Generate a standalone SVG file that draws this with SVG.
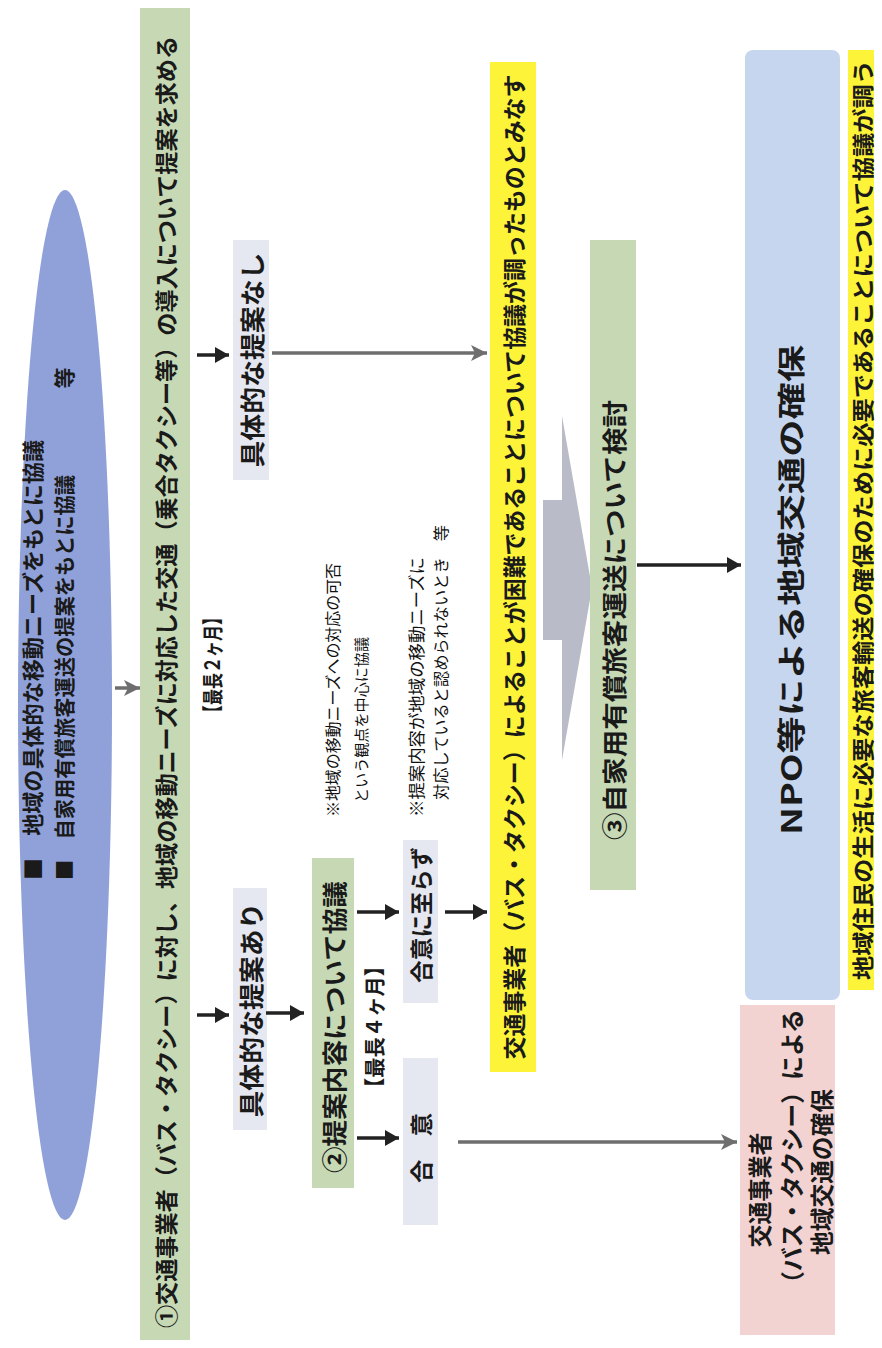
<svg xmlns="http://www.w3.org/2000/svg" width="882" height="1348" viewBox="0 0 882 1348">
<style>
.t{font-family:"Noto Sans CJK JP","Noto Sans CJK SC",sans-serif;font-weight:700;fill:#1a1a1a;}
.n{font-family:"Noto Sans CJK JP","Noto Sans CJK SC",sans-serif;font-weight:400;fill:#111;}
.green{fill:#c6d9b4;}
.pale{fill:#e5e7f1;}
.yel{fill:#fdf43a;}
.blk{stroke:#222;stroke-width:3.5;fill:none;}
.gry{stroke:#6e6e6e;stroke-width:3.5;fill:none;}
</style>
<defs>
<marker id="ah" markerUnits="userSpaceOnUse" markerWidth="14" markerHeight="16" refX="14" refY="8" orient="auto"><path d="M0,0 L14,8 L0,16 Z" fill="#222"/></marker>
<marker id="ahg" markerUnits="userSpaceOnUse" markerWidth="16" markerHeight="16" refX="16" refY="8" orient="auto"><path d="M0,0 L16,8 L0,16 L4,8 Z" fill="#6e6e6e"/></marker>
</defs>
<rect width="882" height="1348" fill="#ffffff"/>

<g id="start">
<ellipse cx="65" cy="705" rx="47" ry="515" fill="#8fa1d8"/>
<text class="t" font-size="22" text-anchor="start" dominant-baseline="central" transform="translate(31,880) rotate(-90)" textLength="440" lengthAdjust="spacingAndGlyphs">■　地域の具体的な移動ニーズをもとに協議</text>
<text class="t" font-size="21" text-anchor="start" dominant-baseline="central" transform="translate(63,880) rotate(-90)" textLength="405" lengthAdjust="spacingAndGlyphs">■　自家用有償旅客運送の提案をもとに協議</text>
<text class="t" font-size="21" text-anchor="middle" dominant-baseline="central" transform="translate(63,378) rotate(-90)">等</text>
</g>

<g id="step1">
<rect class="green" x="140" y="8" width="50" height="1332"/>
<text class="t" font-size="23" text-anchor="middle" dominant-baseline="central" transform="translate(165,682) rotate(-90)" textLength="1292" lengthAdjust="spacingAndGlyphs">①交通事業者（バス・タクシー）に対し、地域の移動ニーズに対応した交通（乗合タクシー等）の導入について提案を求める</text>
</g>
<g id="limit1">
<text class="t" font-size="21" text-anchor="middle" dominant-baseline="central" transform="translate(211,665) rotate(-90)" textLength="112" lengthAdjust="spacingAndGlyphs">【最長２ヶ月】</text>
</g>

<g id="noProposal">
<rect class="pale" x="233" y="240" width="36" height="240"/>
<text class="t" font-size="25" text-anchor="middle" dominant-baseline="central" transform="translate(251,360) rotate(-90)" textLength="215" lengthAdjust="spacingAndGlyphs">具体的な提案なし</text>
</g>

<g id="proposal">
<rect class="pale" x="233" y="888" width="34" height="242"/>
<text class="t" font-size="25" text-anchor="middle" dominant-baseline="central" transform="translate(250,1010) rotate(-90)" textLength="215" lengthAdjust="spacingAndGlyphs">具体的な提案あり</text>
</g>

<g id="step2">
<rect class="green" x="312" y="858" width="42" height="330"/>
<text class="t" font-size="25" text-anchor="middle" dominant-baseline="central" transform="translate(333,1027) rotate(-90)" textLength="292" lengthAdjust="spacingAndGlyphs">②提案内容について協議</text>
</g>
<g id="limit2">
<text class="t" font-size="21" text-anchor="middle" dominant-baseline="central" transform="translate(373,1027) rotate(-90)" textLength="142" lengthAdjust="spacingAndGlyphs">【最長４ヶ月】</text>
</g>

<g id="note1">
<text class="n" font-size="16" text-anchor="start" dominant-baseline="central" transform="translate(332,817) rotate(-90)" textLength="254" lengthAdjust="spacingAndGlyphs">※地域の移動ニーズへの対応の可否</text>
<text class="n" font-size="15" text-anchor="start" dominant-baseline="central" transform="translate(360,803) rotate(-90)" textLength="166" lengthAdjust="spacingAndGlyphs">という観点を中心に協議</text>
</g>
<g id="note2">
<text class="n" font-size="17" text-anchor="start" dominant-baseline="central" transform="translate(415,817) rotate(-90)" textLength="260" lengthAdjust="spacingAndGlyphs">※提案内容が地域の移動ニーズに</text>
<text class="n" font-size="16" text-anchor="start" dominant-baseline="central" transform="translate(440,800) rotate(-90)" textLength="275" lengthAdjust="spacingAndGlyphs">対応していると認められないとき　等</text>
</g>

<g id="noAgreement">
<rect class="pale" x="403" y="840" width="35" height="163"/>
<text class="t" font-size="23" text-anchor="middle" dominant-baseline="central" transform="translate(420,915) rotate(-90)" textLength="136" lengthAdjust="spacingAndGlyphs">合意に至らず</text>
</g>

<g id="agreement">
<rect class="pale" x="403" y="1058" width="35" height="167"/>
<text class="t" font-size="23" text-anchor="middle" dominant-baseline="central" transform="translate(420,1148) rotate(-90)" textLength="70" lengthAdjust="spacingAndGlyphs">合　意</text>
</g>

<g id="deemed">
<rect class="yel" x="490" y="62" width="46" height="1010"/>
<text class="t" font-size="23" text-anchor="middle" dominant-baseline="central" transform="translate(513,567) rotate(-90)" textLength="985" lengthAdjust="spacingAndGlyphs">交通事業者（バス・タクシー）によることが困難であることについて協議が調ったものとみなす</text>
</g>

<g id="blockArrow">
<polygon points="543,500 562,500 562,416 592,588 562,760 562,640 543,640" fill="#b9bbc9"/>
</g>

<g id="step3">
<rect class="green" x="590" y="240" width="46" height="650"/>
<text class="t" font-size="25" text-anchor="middle" dominant-baseline="central" transform="translate(613,620) rotate(-90)" textLength="440" lengthAdjust="spacingAndGlyphs">③自家用有償旅客運送について検討</text>
</g>

<g id="npo">
<rect x="745" y="50" width="95" height="950" rx="8" fill="#c6d6ef"/>
<text class="t" font-size="28" text-anchor="middle" dominant-baseline="central" transform="translate(790,590) rotate(-90)" textLength="490" lengthAdjust="spacingAndGlyphs">NPO等による地域交通の確保</text>
</g>

<g id="condition">
<rect class="yel" x="848" y="50" width="26" height="940"/>
<text class="t" font-size="22" text-anchor="middle" dominant-baseline="central" transform="translate(861,520) rotate(-90)" textLength="920" lengthAdjust="spacingAndGlyphs">地域住民の生活に必要な旅客輸送の確保のために必要であることについて協議が調う</text>
</g>

<g id="operator">
<rect x="740" y="1005" width="95" height="330" fill="#f2d3d2"/>
<text class="t" font-size="24" text-anchor="middle" dominant-baseline="central" transform="translate(758,1190) rotate(-90)" textLength="115" lengthAdjust="spacingAndGlyphs">交通事業者</text>
<text class="t" font-size="24" text-anchor="middle" dominant-baseline="central" transform="translate(790,1152) rotate(-90)" textLength="286" lengthAdjust="spacingAndGlyphs">（バス・タクシー）による</text>
<text class="t" font-size="24" text-anchor="middle" dominant-baseline="central" transform="translate(820,1172) rotate(-90)" textLength="166" lengthAdjust="spacingAndGlyphs">地域交通の確保</text>
</g>

<g id="connectors">
<line class="gry" x1="115" y1="688" x2="140" y2="688" marker-end="url(#ahg)"/>
<line class="blk" x1="197" y1="355" x2="229" y2="355" marker-end="url(#ah)"/>
<line class="blk" x1="197" y1="1015" x2="229" y2="1015" marker-end="url(#ah)"/>
<line class="gry" x1="272" y1="353" x2="487" y2="353" marker-end="url(#ahg)"/>
<line class="blk" x1="266" y1="1013" x2="304" y2="1013" marker-end="url(#ah)"/>
<line class="blk" x1="357" y1="912" x2="399" y2="912" marker-end="url(#ah)"/>
<line class="blk" x1="357" y1="1138" x2="399" y2="1138" marker-end="url(#ah)"/>
<line class="blk" x1="445" y1="912" x2="487" y2="912" marker-end="url(#ah)"/>
<line class="gry" x1="458" y1="1142" x2="737" y2="1142" marker-end="url(#ahg)"/>
<line class="blk" x1="637" y1="565" x2="741" y2="565" marker-end="url(#ah)"/>
</g>
</svg>
